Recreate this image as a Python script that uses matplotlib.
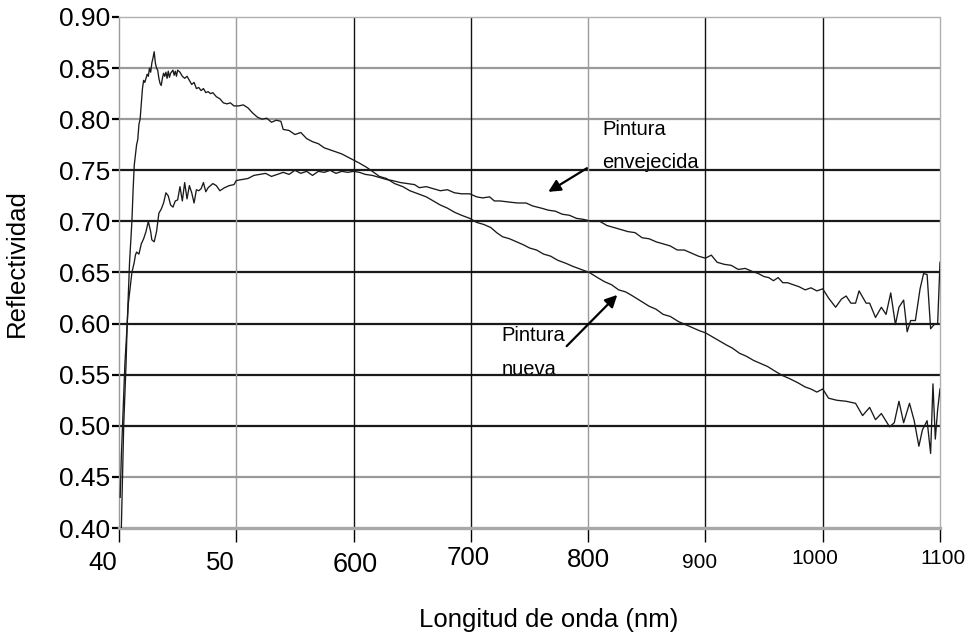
import numpy as np
import matplotlib.pyplot as plt

plt.rcParams['font.family'] = ['Liberation Sans', 'DejaVu Sans']

# Pintura envejecida: (longitud de onda, reflectividad)
envejecida = [
    (401, 0.43), (402, 0.47), (403, 0.50), (404, 0.53), (405, 0.56), (406, 0.58), (407, 0.60),
    (408, 0.62), (409, 0.63), (410, 0.64), (411, 0.65), (412, 0.655), (413, 0.66), (414, 0.667),
    (415, 0.67), (417, 0.668), (419, 0.678), (421, 0.683), (423, 0.69), (425, 0.70), (427, 0.69),
    (428, 0.682), (430, 0.68), (432, 0.69), (434, 0.708), (436, 0.712), (438, 0.718), (440, 0.728),
    (442, 0.725), (444, 0.716), (446, 0.714), (448, 0.72), (450, 0.721), (452, 0.734), (454, 0.72),
    (456, 0.738), (458, 0.722), (460, 0.735), (462, 0.728), (464, 0.718), (466, 0.731), (468, 0.73),
    (470, 0.732), (472, 0.738), (474, 0.729), (476, 0.733), (478, 0.735), (480, 0.737), (483, 0.735),
    (486, 0.73), (490, 0.733), (494, 0.735), (498, 0.736), (500, 0.74), (505, 0.741), (510, 0.742),
    (515, 0.745), (520, 0.746), (525, 0.747), (530, 0.744), (535, 0.746), (540, 0.748), (545, 0.746),
    (550, 0.75), (555, 0.747), (560, 0.749), (565, 0.745), (570, 0.749), (575, 0.748), (580, 0.75),
    (585, 0.747), (590, 0.749), (595, 0.748), (600, 0.749), (605, 0.748), (610, 0.746), (616, 0.745),
    (622, 0.743), (628, 0.741), (633, 0.74), (640, 0.738), (646, 0.737), (652, 0.736), (656, 0.733),
    (662, 0.734), (668, 0.732), (674, 0.73), (680, 0.731), (686, 0.728), (692, 0.727), (699, 0.727),
    (705, 0.724), (710, 0.723), (716, 0.724), (720, 0.72), (725, 0.72), (732, 0.719), (740, 0.718),
    (747, 0.718), (753, 0.715), (760, 0.713), (766, 0.711), (772, 0.71), (778, 0.707), (784, 0.706),
    (790, 0.703), (796, 0.702), (803, 0.70), (810, 0.70), (816, 0.696), (822, 0.694), (828, 0.692),
    (834, 0.69), (840, 0.689), (846, 0.684), (852, 0.683), (858, 0.68), (864, 0.678), (870, 0.676),
    (876, 0.672), (882, 0.672), (888, 0.669), (894, 0.666), (900, 0.664), (905, 0.667), (910, 0.66),
    (916, 0.658), (922, 0.657), (928, 0.653), (934, 0.654), (940, 0.651), (945, 0.649), (950, 0.646),
    (954, 0.645), (958, 0.642), (962, 0.645), (966, 0.64), (970, 0.64), (975, 0.638), (980, 0.636),
    (985, 0.633), (990, 0.635), (995, 0.632), (1000, 0.634), (1005, 0.625), (1011, 0.616),
    (1016, 0.624), (1020, 0.627), (1024, 0.62), (1028, 0.62), (1031, 0.632), (1034, 0.626),
    (1037, 0.62), (1040, 0.62), (1045, 0.606), (1050, 0.616), (1054, 0.609), (1058, 0.63),
    (1062, 0.599), (1065, 0.616), (1069, 0.623), (1072, 0.592), (1075, 0.603), (1079, 0.603),
    (1083, 0.634), (1086, 0.649), (1089, 0.648), (1092, 0.595), (1095, 0.599), (1098, 0.60),
    (1100, 0.66),
]

# Pintura nueva: (longitud de onda, reflectividad)
nueva = [
    (402, 0.40), (403, 0.45), (404, 0.50), (405, 0.53), (406, 0.56), (407, 0.60), (408, 0.63),
    (409, 0.66), (410, 0.68), (411, 0.70), (412, 0.73), (413, 0.755), (414, 0.765), (415, 0.775),
    (416, 0.78), (417, 0.795), (418, 0.80), (419, 0.815), (420, 0.83), (421, 0.838), (422, 0.836),
    (423, 0.84), (424, 0.844), (425, 0.842), (426, 0.85), (427, 0.846), (428, 0.855), (429, 0.86),
    (430, 0.866), (431, 0.855), (432, 0.85), (433, 0.848), (434, 0.84), (435, 0.835), (436, 0.833),
    (437, 0.84), (438, 0.845), (439, 0.842), (440, 0.846), (441, 0.84), (442, 0.847), (443, 0.841),
    (444, 0.845), (446, 0.848), (447, 0.843), (448, 0.847), (449, 0.842), (450, 0.848), (452, 0.846),
    (454, 0.842), (456, 0.84), (458, 0.842), (460, 0.838), (462, 0.834), (464, 0.836), (466, 0.83),
    (468, 0.831), (470, 0.828), (472, 0.83), (474, 0.826), (476, 0.827), (478, 0.825), (480, 0.826),
    (483, 0.822), (486, 0.82), (489, 0.816), (492, 0.815), (495, 0.816), (498, 0.813), (502, 0.813),
    (506, 0.814), (510, 0.811), (514, 0.806), (518, 0.802), (522, 0.80), (526, 0.801), (530, 0.797),
    (534, 0.799), (538, 0.798), (540, 0.79), (545, 0.789), (550, 0.785), (555, 0.787), (560, 0.781),
    (565, 0.778), (570, 0.776), (575, 0.772), (580, 0.77), (585, 0.768), (590, 0.766), (595, 0.763),
    (600, 0.76), (605, 0.757), (611, 0.753), (616, 0.749), (622, 0.744), (628, 0.742), (635, 0.737),
    (642, 0.734), (648, 0.73), (655, 0.727), (662, 0.724), (668, 0.72), (674, 0.716), (680, 0.713),
    (686, 0.709), (692, 0.706), (699, 0.703), (705, 0.699), (711, 0.697), (717, 0.694), (722, 0.689),
    (727, 0.685), (733, 0.683), (739, 0.68), (745, 0.677), (750, 0.674), (756, 0.672), (762, 0.668),
    (768, 0.666), (774, 0.662), (781, 0.659), (787, 0.656), (794, 0.653), (801, 0.65), (808, 0.645),
    (814, 0.641), (820, 0.638), (826, 0.633), (832, 0.631), (838, 0.627), (845, 0.622), (852, 0.617),
    (858, 0.614), (864, 0.609), (870, 0.607), (877, 0.602), (883, 0.599), (889, 0.596), (895, 0.593),
    (900, 0.591), (906, 0.587), (912, 0.583), (918, 0.579), (923, 0.576), (929, 0.571), (935, 0.568),
    (941, 0.564), (947, 0.561), (953, 0.558), (960, 0.553), (966, 0.549), (972, 0.546), (979, 0.542),
    (985, 0.538), (990, 0.536), (995, 0.533), (1000, 0.536), (1005, 0.527), (1012, 0.525),
    (1020, 0.524), (1028, 0.522), (1034, 0.51), (1040, 0.518), (1045, 0.506), (1050, 0.512),
    (1057, 0.499), (1061, 0.503), (1065, 0.524), (1069, 0.503), (1074, 0.522), (1078, 0.505),
    (1082, 0.48), (1085, 0.496), (1089, 0.505), (1092, 0.473), (1094, 0.541), (1096, 0.487),
    (1098, 0.516), (1100, 0.536),
]

x_ticks = [400, 500, 600, 700, 800, 900, 1000, 1100]
x_labels = ['40', '50', '600', '700', '800', '900', '1000', '1100']
y_ticks = [0.40, 0.45, 0.50, 0.55, 0.60, 0.65, 0.70, 0.75, 0.80, 0.85, 0.90]

# estilo de cada etiqueta del eje x: tamaño, desplazamiento x, y (en px)
x_lab_size = [18.5, 18.5, 19.5, 18.5, 18.5, 15, 15, 15]
x_lab_dx = [-16, -16, 2, -3, 0, -6, -8, 3]
x_lab_dy = [-35, -35, -37, -30, -32, -34, -31, -31]

x_env, y_env = zip(*envejecida)
x_nue, y_nue = zip(*nueva)

fig = plt.figure(figsize=(9.7, 6.35), dpi=100)
ax = fig.add_axes([119/970, 1 - 528/635, (940 - 119)/970, (528 - 17)/635])
ax.set_xlim(400, 1100)
ax.set_ylim(0.40, 0.90)

grey = '#9a9a9a'
for y in y_ticks[1:-1]:
    dark = 0.49 < y < 0.76
    ax.axhline(y, color='#1a1a1a' if dark else grey, lw=1.6, zorder=1)
for x in x_ticks[1:-1]:
    dark = x in (600, 700, 900, 1000)
    ax.axvline(x, color='#111111' if dark else grey, lw=1.0, zorder=1)

for s in ['top', 'right']:
    ax.spines[s].set_color('#b0b0b0')
    ax.spines[s].set_linestyle((0, (1, 1)))
    ax.spines[s].set_linewidth(1.0)
ax.spines['bottom'].set_color('#a8a8a8')
ax.spines['bottom'].set_linewidth(2.4)
ax.spines['left'].set_color(grey)
ax.spines['left'].set_linewidth(1.0)

ax.plot(x_env, y_env, color='#1a1a1a', lw=0.95, zorder=3)
ax.plot(x_nue, y_nue, color='#1a1a1a', lw=0.95, zorder=3)

ax.set_yticks(y_ticks)
ax.set_yticklabels([f'{v:.2f}' for v in y_ticks], fontsize=19)
ax.tick_params(axis='y', length=5, width=1.6, pad=1.5)
for v, t in zip(y_ticks, ax.yaxis.get_major_ticks()):
    t.tick1line.set_color('#1a1a1a' if 0.49 < v < 0.76 else grey)

ax.set_xticks(x_ticks)
ax.set_xticklabels([])
ax.tick_params(axis='x', length=10, width=1.0)
for v, t in zip(x_ticks, ax.xaxis.get_major_ticks()):
    t.tick1line.set_color('#111111' if v in (600, 700, 900, 1000) else grey)

for x, lab, fs, dx, dy in zip(x_ticks, x_labels, x_lab_size, x_lab_dx, x_lab_dy):
    ax.annotate(lab, xy=(x, 0.40), xycoords='data', xytext=(dx * 0.72, dy * 0.72),
                textcoords='offset points', ha='center', va='center', fontsize=fs,
                annotation_clip=False)

fig.text(549/970, 1 - 620/635, 'Longitud de onda (nm)', ha='center', va='center', fontsize=18.5)
fig.text(17/970, 1 - 263/635, 'Reflectividad', ha='center', va='center', rotation=90, fontsize=18.5)

# anotaciones
ax.text(812, 0.7845, 'Pintura', fontsize=14.5, va='baseline', ha='left', zorder=2)
ax.text(812, 0.7522, 'envejecida', fontsize=14.5, va='baseline', ha='left', zorder=0.5)
ax.annotate('', xy=(764, 0.7275), xytext=(801, 0.7535),
            arrowprops=dict(arrowstyle='-|>', color='black', lw=1.6, mutation_scale=18))
ax.text(726, 0.5833, 'Pintura', fontsize=14.5, va='baseline', ha='left', zorder=2)
ax.text(726, 0.5497, 'nueva', fontsize=14.5, va='baseline', ha='left', zorder=0.5)
ax.annotate('', xy=(826.5, 0.63), xytext=(780, 0.576),
            arrowprops=dict(arrowstyle='-|>', color='black', lw=1.6, mutation_scale=18))

fig.savefig('out.png', dpi=100)
